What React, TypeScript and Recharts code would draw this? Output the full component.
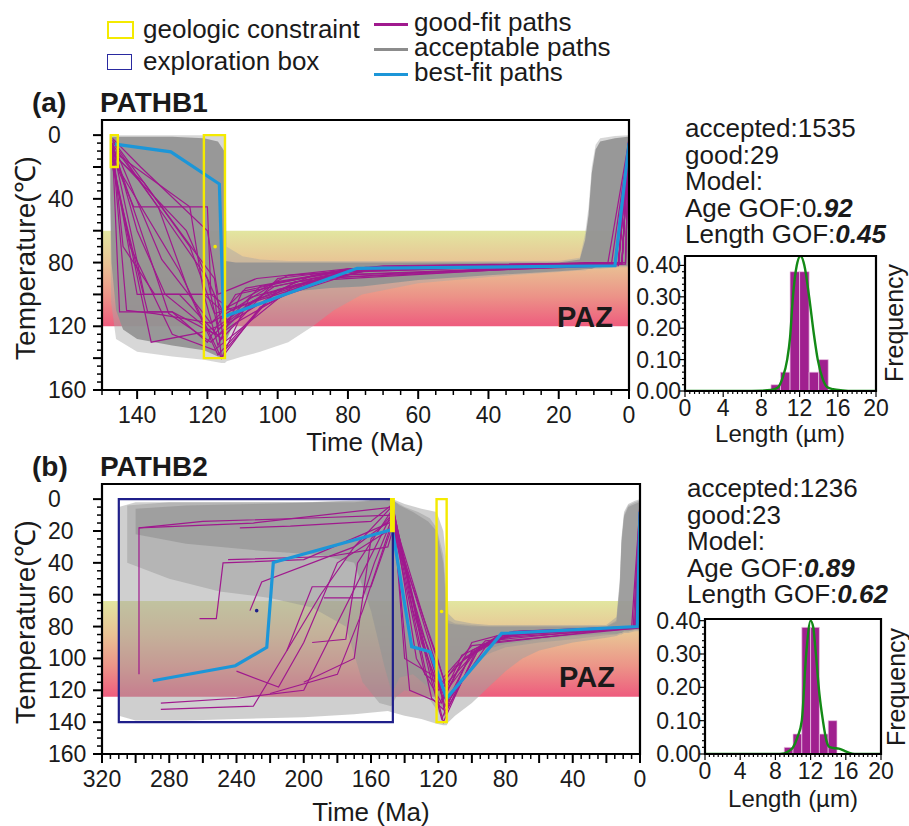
import React from 'react';
import { ComposedChart, Area, Line, XAxis, YAxis, ReferenceArea, ReferenceDot } from 'recharts';

const FONT = '"Liberation Sans", Arial, Helvetica, sans-serif';

type P2 = [number, number];
type P3 = [number, number, number];

// ================= Panel (a) PATHB1 =================
const timeLabelsA = [140, 120, 100, 80, 60, 40, 20, 0];
const tempLabelsA = [0, 40, 80, 120, 160];
const pazA: P2 = [60, 120];
const envLightA: P3[] = [
  [147.8, 0, 22], [147.4, 0, 105], [146, 0, 128], [140, 0, 136], [130, 0, 139], [121, 0, 141],
  [116, 0, 143], [115, 0, 143], [114.5, 70, 142], [110, 76, 139], [105, 78, 136], [97, 79, 130],
  [90, 79, 120], [84, 79, 110], [76, 79, 100], [60, 79, 93], [40, 79, 89], [20, 79, 86],
  [14, 77, 85], [12.5, 62, 85], [11.5, 45, 84], [10.6, 20, 84], [9.5, 6, 84], [8.2, 2, 84],
  [4, 0.5, 83], [0.2, 0, 83], [0, 0, 10],
];
const envDenseA: P3[] = [
  [147.6, 1, 40], [147.3, 1, 80], [146, 1, 110], [144, 1, 122], [140, 1, 128], [130, 1, 132],
  [121, 2, 135], [117, 4, 139], [115.2, 10, 140], [114.8, 79, 130], [112, 80, 115], [105, 80, 104],
  [95, 80, 98], [85, 80, 96], [76, 80, 95], [60, 80, 91], [40, 80, 88], [20, 80, 85.5],
  [14, 78, 84.5], [12.5, 66, 84], [11.5, 50, 84], [10.6, 24, 84], [9.5, 9, 83], [8.2, 4, 83],
  [4, 2, 82], [0.4, 1, 82], [0, 2, 8],
];
const goodPathsA: P2[][] = [
  [[147, 5], [140, 60], [132, 100], [118, 125], [105, 95], [80, 84], [3, 80], [0, 2]],
  [[147, 8], [143, 110], [135, 112], [119, 118], [100, 92], [75, 83], [2, 80], [0, 3]],
  [[147, 10], [125, 45], [121, 100], [117, 132], [110, 98], [85, 86], [5, 81], [0, 4]],
  [[146.5, 12], [138, 100], [128, 100], [116, 128], [100, 90], [70, 82], [2, 80], [0, 1]],
  [[147, 15], [128, 85], [116, 140], [108, 102], [80, 85], [4, 81], [0, 2]],
  [[147, 6], [134, 45], [120, 45], [119, 100], [113, 110], [90, 88], [60, 82], [1, 80], [0, 5]],
  [[147, 18], [142, 70], [130, 125], [118, 135], [95, 94], [70, 83], [3, 81], [0, 3]],
  [[147, 4], [120, 90], [117, 122], [104, 100], [80, 86], [2, 80], [0, 1]],
  [[147, 9], [145, 111], [130, 111], [117, 126], [112, 118], [90, 90], [3, 80], [0, 1]],
  [[147, 12], [138, 30], [125, 70], [118, 112], [100, 100], [78, 84], [6, 80], [0, 3]],
  [[147, 14], [140, 100], [121, 100], [116, 110], [97, 88], [65, 83], [2, 80], [0, 4]],
  [[147, 7], [131, 112], [119, 130], [107, 104], [85, 88], [3, 82], [0, 2]],
  [[147, 3], [118, 90], [115, 135], [100, 97], [72, 84], [1, 81], [0, 0]],
  [[147, 16], [136, 130], [122, 124], [117, 120], [101, 95], [78, 85], [4, 80], [0, 3]],
  [[147, 11], [126, 60], [118, 100], [116, 140], [105, 108], [88, 90], [2, 81], [0, 2]],
  [[146, 10], [133, 78], [119, 118], [109, 96], [77, 84], [3, 80], [0, 5]],
  [[147, 5], [144, 70], [135, 100], [118, 100], [114, 118], [95, 92], [2, 80], [0, 2]],
  [[147, 13], [141, 45], [134, 45], [125, 100], [117, 138], [103, 104], [76, 85], [4, 80], [0, 1]],
  [[147, 20], [137, 111], [130, 111], [120, 130], [112, 100], [86, 88], [3, 81], [0, 4]],
  [[147, 2], [139, 20], [120, 60], [117, 100], [106, 90], [80, 84], [1, 80], [0, 0]],
];
const bestPathA: P2[] = [[146.3, 5.6], [130.4, 10.5], [116.6, 30.7], [115.4, 114], [77.4, 83.6], [4, 82], [0, 5]];
const constraintBoxesA: [number, number, number, number][] = [[145.5, 147.5, 0, 20], [115, 121, 0, 140]];
const constraintDotsA: P2[] = [[117.8, 70]];
const histEdgesA = [9, 10, 11, 12, 13, 14, 15];
const histFreqA = [0.02, 0.06, 0.38, 0.38, 0.06, 0.10];
const fitLenA = [0, 2, 4, 6, 8, 9, 9.7, 10.2, 10.7, 11, 11.3, 11.7, 12.1, 12.5, 13, 13.5, 13.9, 14.4, 14.9, 15.5, 16.5, 17.5, 20];
const fitFreqA = [0, 0, 0, 0, 0.001, 0.003, 0.01, 0.04, 0.1, 0.17, 0.3, 0.4, 0.43, 0.4, 0.3, 0.18, 0.1, 0.04, 0.012, 0.006, 0.002, 0, 0];

// ================= Panel (b) PATHB2 =================
const timeLabelsB = [320, 280, 240, 200, 160, 120, 80, 40, 0];
const tempLabelsB = [0, 20, 40, 60, 80, 100, 120, 140, 160];
const pazB: P2 = [64, 124];
const envLightB: P3[] = [
  [310, 5, 136], [300, 2, 139], [270, 2, 139], [240, 2, 138], [200, 2, 137], [170, 1, 135],
  [150, 0, 133], [147, 0, 134], [140, 3, 136], [130, 6, 138], [121, 8, 141], [117, 20, 142],
  [115, 40, 142], [114, 72, 140], [110, 76, 136], [100, 78, 128], [90, 79, 118], [80, 79, 108],
  [70, 79, 100], [60, 79, 95], [40, 79, 90], [20, 79, 87], [14, 74, 86], [12, 50, 85],
  [11, 24, 85], [9.5, 8, 84], [7, 3, 84], [3, 1, 83], [0.2, 0, 83], [0, 0, 12],
];
const envDenseB: P3[] = [
  [305, 4, 40], [280, 2, 50], [250, 2, 58], [220, 2, 62], [195, 2, 68], [175, 1, 80],
  [165, 1, 115], [155, 0, 128], [148, 0, 130], [145, 2, 124], [140, 5, 120], [132, 8, 122],
  [125, 12, 126], [121, 18, 132], [117, 35, 138], [115, 60, 138], [114, 76, 128], [110, 78, 115],
  [100, 79, 104], [90, 80, 97], [80, 80, 93], [60, 80, 90], [40, 80, 88], [20, 80, 85.5],
  [14, 76, 85], [12, 52, 84], [11, 26, 84], [9.5, 10, 83], [7, 4, 83], [3, 2, 82],
  [0.4, 1, 82], [0, 2, 10],
];
const envCoreB: P3[] = [
  [300, 6, 22], [270, 4, 28], [230, 3, 32], [190, 2, 35], [170, 2, 40], [160, 1, 70],
  [152, 1, 105], [147.5, 0, 122], [143, 4, 112], [135, 8, 110], [126, 14, 118], [121, 20, 126],
  [117, 40, 132], [115, 70, 128], [114, 78, 112], [108, 79, 102], [100, 80, 98], [90, 80, 94],
  [80, 80, 91], [60, 80, 88], [40, 80, 86], [20, 80, 84.5], [14, 77, 84.5], [12, 55, 84],
  [11, 28, 84], [9.5, 11, 83], [7, 5, 83], [3, 3, 82], [0.4, 2, 82], [0, 3, 10],
];
const goodPathsB: P2[][] = [
  [[298, 18], [260, 14], [200, 12], [147, 10], [125, 110], [118, 138], [100, 95], [80, 84], [3, 80], [0, 2]],
  [[298, 110], [298, 18], [230, 15], [147, 5], [130, 90], [117, 125], [105, 100], [82, 85], [2, 80], [0, 3]],
  [[262, 75], [252, 75], [248, 40], [200, 38], [147, 14], [121, 105], [116, 135], [95, 92], [70, 83], [3, 81], [0, 2]],
  [[285, 128], [240, 125], [200, 120], [147, 8], [133, 100], [118, 128], [100, 90], [75, 83], [2, 80], [0, 4]],
  [[285, 132], [230, 130], [190, 60], [170, 30], [147, 12], [122, 118], [117, 140], [98, 96], [80, 85], [4, 80], [0, 1]],
  [[240, 108], [215, 118], [200, 90], [180, 40], [147, 18], [126, 95], [116, 130], [90, 90], [2, 81], [0, 2]],
  [[232, 70], [225, 52], [170, 30], [147, 4], [135, 70], [120, 120], [110, 105], [85, 86], [1, 80], [0, 1]],
  [[210, 95], [195, 55], [160, 55], [147, 16], [128, 110], [117, 118], [92, 89], [3, 80], [0, 3]],
  [[238, 18], [208, 17], [160, 14], [147, 3], [140, 100], [121, 112], [114, 130], [96, 94], [72, 83], [2, 80], [0, 0]],
  [[220, 122], [180, 110], [165, 70], [147, 13], [124, 125], [117, 132], [100, 96], [78, 85], [5, 81], [0, 3]],
  [[195, 90], [175, 88], [168, 40], [147, 6], [131, 80], [118, 115], [104, 100], [80, 86], [2, 80], [0, 2]],
  [[245, 38], [185, 36], [150, 30], [147, 19], [121, 98], [115, 120], [95, 92], [70, 84], [3, 80], [0, 4]],
  [[200, 115], [170, 100], [160, 25], [147, 9], [137, 120], [119, 128], [106, 98], [84, 87], [1, 81], [0, 1]],
  [[188, 62], [165, 62], [158, 40], [147, 11], [126, 84], [117, 112], [100, 92], [2, 80], [0, 2]],
];
const bestPathB: P2[] = [[289.8, 114], [240.7, 104.6], [222, 93], [218.1, 39.7], [147.3, 19], [135.8, 92.6], [124.9, 95.8], [115, 125], [82.3, 84.3], [1.6, 80], [0, 8]];
const constraintBoxesB: [number, number, number, number][] = [[146.5, 148, 0, 20], [115, 121, 0, 140]];
const explorationBoxB: [number, number, number, number] = [147, 310, 0, 140];
const constraintDotsB: P2[] = [[118, 70.5]];
const explorationDotsB: P2[] = [[228, 70]];
const histEdgesB = [9, 10, 11, 12, 13, 14, 15];
const histFreqB = [0.02, 0.06, 0.38, 0.38, 0.06, 0.10];
const fitLenB = [0, 2, 4, 6, 8, 9, 9.5, 10, 10.5, 11, 11.5, 12, 12.3, 12.6, 13, 13.4, 13.8, 14.1, 14.6, 15.2, 15.8, 16.4, 17, 20];
const fitFreqB = [0, 0, 0, 0, 0, 0.002, 0.008, 0.02, 0.05, 0.1, 0.3, 0.4, 0.38, 0.3, 0.18, 0.1, 0.04, 0.022, 0.018, 0.016, 0.01, 0.003, 0, 0];

const histTickLabels = [0, 4, 8, 12, 16, 20];
const freqTickLabels = [0, 0.1, 0.2, 0.3, 0.4];

// ================= helpers =================
const range = (a: number, b: number, s: number) => {
  const r: number[] = [];
  for (let i = 0; a + i * s <= b + 1e-9; i++) r.push(Math.round((a + i * s) * 1000) / 1000);
  return r;
};
const near = (v: number, arr: number[]) => arr.some((x) => Math.abs(x - v) < 1e-6);
const isMult = (v: number, step: number) => Math.abs(v / step - Math.round(v / step)) < 1e-6;
const toPts = (p: P2[]) => p.map(([a, t]) => ({ a, t }));
const toEnv = (e: P3[]) => e.map(([a, lo, hi]) => ({ a, r: [lo, hi] }));

const PURPLE = '#a0198e';
const BLUE = '#1c96d8';
const YELLOW = '#f4ea00';
const NAVY = '#1f1f8a';

function Txt({ x, y, size = 26, bold = false, children, anchor = 'left', lh = 1 }: any) {
  const tx = anchor === 'center' ? 'translate(-50%,-50%)' : 'translate(0,-50%)';
  return (
    <div style={{ position: 'absolute', left: x, top: y, transform: tx, fontFamily: FONT, fontSize: size, fontWeight: bold ? 700 : 400, lineHeight: lh, whiteSpace: 'nowrap', color: '#1a1a1a' }}>
      {children}
    </div>
  );
}
function VTxt({ x, y, size = 28, children }: any) {
  return (
    <div style={{ position: 'absolute', left: x, top: y, transform: 'translate(-50%,-50%) rotate(-90deg)', fontFamily: FONT, fontSize: size, lineHeight: 1, whiteSpace: 'nowrap', color: '#1a1a1a' }}>
      {children}
    </div>
  );
}

function ThermalPanel(props: any) {
  const { left, top, width, right, xMax, timeLabels, tempLabels, paz, gradId, layers, good, best, boxes, explor, dots, navyDots } = props;
  const xTick = (p: any) => {
    const v = p.payload.value;
    const major = isMult(v, 20);
    return (
      <g>
        <line x1={p.x} x2={p.x} y1={p.y} y2={p.y + (major ? 9 : 5)} stroke="#000" strokeWidth={major ? 2 : 1.5} />
        {near(v, timeLabels) && (
          <text x={p.x} y={p.y + 33} textAnchor="middle" fontSize={23} fontFamily={FONT} fill="#1a1a1a">{v}</text>
        )}
      </g>
    );
  };
  const yTick = (p: any) => {
    const v = p.payload.value;
    const major = isMult(v, 20);
    return (
      <g>
        <line x1={p.x} x2={p.x - (major ? 9 : 5)} y1={p.y} y2={p.y} stroke="#000" strokeWidth={major ? 2 : 1.5} />
        {near(v, tempLabels) && (
          <text x={p.x - 54} y={p.y + 8} textAnchor="start" fontSize={23} fontFamily={FONT} fill="#1a1a1a">{v}</text>
        )}
      </g>
    );
  };
  return (
    <div style={{ position: 'absolute', left, top }}>
      <ComposedChart width={width} height={340} margin={{ top: 20, right, bottom: 20, left: 42 }}>
        <defs>
          <linearGradient id={gradId} x1="0" y1="0" x2="0" y2="1">
            <stop offset="0%" stopColor="#e2e6a0" />
            <stop offset="35%" stopColor="#e9c294" />
            <stop offset="68%" stopColor="#ec9488" />
            <stop offset="100%" stopColor="#ee5c7e" />
          </linearGradient>
        </defs>
        <XAxis type="number" dataKey="a" domain={[0, xMax]} reversed allowDataOverflow ticks={range(0, xMax, 5)} interval={0}
          tickLine={false} tickSize={0} tickMargin={0} axisLine={false} height={30} tick={xTick} />
        <YAxis type="number" domain={[-9.5, 160]} reversed allowDataOverflow ticks={range(0, 160, 5)} interval={0}
          tickLine={false} tickSize={0} tickMargin={0} axisLine={false} width={60} tick={yTick} />
        <ReferenceArea y1={paz[0]} y2={paz[1]} fill={`url(#${gradId})`} fillOpacity={1} stroke="none" zIndex={50} />
        {layers.map((l: any, i: number) => (
          <Area key={'l' + i} data={toEnv(l.env)} dataKey="r" type="linear" stroke="none" fill={l.color} fillOpacity={l.op}
            isAnimationActive={false} dot={false} activeDot={false} zIndex={100 + i} />
        ))}
        {good.map((p: P2[], i: number) => (
          <Line key={'g' + i} data={toPts(p)} dataKey="t" type="linear" stroke={PURPLE} strokeWidth={1.2} dot={false}
            activeDot={false} isAnimationActive={false} zIndex={400} />
        ))}
        <Line data={toPts(best)} dataKey="t" type="linear" stroke={BLUE} strokeWidth={3.2} dot={false} activeDot={false}
          isAnimationActive={false} zIndex={410} />
        {explor && (
          <ReferenceArea x1={explor[0]} x2={explor[1]} y1={explor[2]} y2={explor[3]} fill="none" stroke={NAVY} strokeWidth={2.2} zIndex={420} />
        )}
        {boxes.map((b: number[], i: number) => (
          <ReferenceArea key={'b' + i} x1={b[0]} x2={b[1]} y1={b[2]} y2={b[3]} fill={b[1] - b[0] < 2 ? YELLOW : 'none'}
            fillOpacity={1} stroke={YELLOW} strokeWidth={2.4} zIndex={430} />
        ))}
        {dots.map((d: P2, i: number) => (
          <ReferenceDot key={'d' + i} x={d[0]} y={d[1]} r={1.8} fill={YELLOW} stroke="none" zIndex={440} />
        ))}
        {(navyDots || []).map((d: P2, i: number) => (
          <ReferenceDot key={'n' + i} x={d[0]} y={d[1]} r={1.8} fill={NAVY} stroke="none" zIndex={440} />
        ))}
        <ReferenceArea x1={0} x2={xMax} y1={-9.5} y2={160} fill="none" stroke="#000" strokeWidth={2.2} zIndex={450} />
      </ComposedChart>
    </div>
  );
}

function HistPanel(props: any) {
  const { left, top, width, yMax, edges, freq, fitL, fitF } = props;
  const fit = fitL.map((l: number, i: number) => ({ l, f: fitF[i] }));
  const xTick = (p: any) => {
    const v = p.payload.value;
    const lab = near(v, histTickLabels);
    return (
      <g>
        <line x1={p.x} x2={p.x} y1={p.y} y2={p.y + (lab ? 6 : 3)} stroke="#000" strokeWidth={1.2} />
        {lab && <text x={p.x} y={p.y + 25} textAnchor="middle" fontSize={23} fontFamily={FONT} fill="#1a1a1a">{v}</text>}
      </g>
    );
  };
  const yTick = (p: any) => {
    const v = p.payload.value;
    const lab = near(v, freqTickLabels);
    return (
      <g>
        <line x1={p.x} x2={p.x - (lab ? 6 : 3)} y1={p.y} y2={p.y} stroke="#000" strokeWidth={1.2} />
        {lab && <text x={p.x - 4} y={p.y + 8} textAnchor="end" fontSize={23} fontFamily={FONT} fill="#1a1a1a">{v.toFixed(2)}</text>}
      </g>
    );
  };
  return (
    <div style={{ position: 'absolute', left, top }}>
      <ComposedChart width={width} height={180} margin={{ top: 10, right: 24, bottom: 0, left: 5 }}>
        <XAxis type="number" dataKey="l" domain={[0, 20]} allowDataOverflow ticks={range(0, 20, 0.5)} interval={0}
          tickLine={false} tickSize={0} tickMargin={0} axisLine={false} height={35} tick={xTick} />
        <YAxis type="number" domain={[0, yMax]} allowDataOverflow ticks={range(0, 0.4, 0.02)} interval={0}
          tickLine={false} tickSize={0} tickMargin={0} axisLine={false} width={60} tick={yTick} />
        {freq.map((f: number, i: number) => (
          <ReferenceArea key={'h' + i} x1={edges[i]} x2={edges[i + 1]} y1={0} y2={f} fill="#a0208f" fillOpacity={1}
            stroke="#ecc8e6" strokeWidth={0.7} zIndex={300} />
        ))}
        <Line data={fit} dataKey="f" type="monotone" stroke="#138a16" strokeWidth={2.4} dot={false} activeDot={false}
          isAnimationActive={false} zIndex={400} />
        <ReferenceArea x1={0} x2={20} y1={0} y2={yMax} fill="none" stroke="#000" strokeWidth={2.2} zIndex={450} />
      </ComposedChart>
    </div>
  );
}

function Stats({ x, y, lines }: any) {
  return (
    <div style={{ position: 'absolute', left: x, top: y, fontFamily: FONT, fontSize: 26, lineHeight: '26.6px', color: '#1a1a1a', whiteSpace: 'nowrap' }}>
      {lines.map((l: any, i: number) => (
        <div key={i} style={{ height: 26.6 }}>{l}</div>
      ))}
    </div>
  );
}

export default function App() {
  const BI = (s: string) => <b><i>{s}</i></b>;
  return (
    <div style={{ position: 'absolute', left: 0, top: 0, width: 909, height: 826, background: '#fff', overflow: 'hidden' }}>
      {/* legend */}
      <div style={{ position: 'absolute', left: 107, top: 21, width: 23, height: 14, border: `2px solid ${YELLOW}` }} />
      <Txt x={143} y={29} lh="24px">geologic constraint</Txt>
      <div style={{ position: 'absolute', left: 107, top: 54, width: 23, height: 14, border: '1.5px solid #2a2aa0' }} />
      <Txt x={143} y={61} lh="24px">exploration box</Txt>
      <div style={{ position: 'absolute', left: 374, top: 23, width: 34, height: 3, background: PURPLE }} />
      <Txt x={414} y={22} lh="24px">good-fit paths</Txt>
      <div style={{ position: 'absolute', left: 374, top: 48, width: 34, height: 3, background: '#8c8c8c' }} />
      <Txt x={414} y={47} lh="24px">acceptable paths</Txt>
      <div style={{ position: 'absolute', left: 374, top: 73, width: 34, height: 3, background: BLUE }} />
      <Txt x={414} y={72} lh="24px">best-fit paths</Txt>

      {/* panel a */}
      <Txt x={32} y={103} size={28} bold>(a)</Txt>
      <Txt x={100} y={103} size={28} bold>PATHB1</Txt>
      <ThermalPanel left={0} top={100} width={640} right={11} xMax={150} timeLabels={timeLabelsA} tempLabels={tempLabelsA}
        paz={pazA} gradId="pazA"
        layers={[{ env: envLightA, color: '#a6a6a6', op: 0.45 }, { env: envDenseA, color: '#939393', op: 0.92 }]}
        good={goodPathsA} best={bestPathA} boxes={constraintBoxesA} dots={constraintDotsA} />
      <Txt x={557} y={317} size={29} bold>PAZ</Txt>
      <VTxt x={26} y={258} size={28}>Temperature(℃)</VTxt>
      <Txt x={365} y={442} size={26} anchor="center">Time (Ma)</Txt>
      <Stats x={685} y={115} lines={['accepted:1535', 'good:29', 'Model:', <>Age GOF:0{BI('.92')}</>, <>Length GOF:{BI('0.45')}</>]} />
      <HistPanel left={620} top={246} width={280} yMax={0.43} edges={histEdgesA} freq={histFreqA} fitL={fitLenA} fitF={fitFreqA} />
      <Txt x={780} y={434} size={24} anchor="center">Length (µm)</Txt>
      <VTxt x={894} y={323} size={25}>Frequency</VTxt>

      {/* panel b */}
      <Txt x={32} y={467} size={28} bold>(b)</Txt>
      <Txt x={100} y={467} size={28} bold>PATHB2</Txt>
      <ThermalPanel left={0} top={464} width={650} right={10} xMax={320} timeLabels={timeLabelsB} tempLabels={tempLabelsB}
        paz={pazB} gradId="pazB"
        layers={[{ env: envLightB, color: '#a0a0a0', op: 0.5 }, { env: envDenseB, color: '#959595', op: 0.45 }, { env: envCoreB, color: '#959595', op: 0.7 }]}
        good={goodPathsB} best={bestPathB} boxes={constraintBoxesB} explor={explorationBoxB} dots={constraintDotsB} navyDots={explorationDotsB} />
      <Txt x={559} y={677} size={29} bold>PAZ</Txt>
      <VTxt x={26} y={622} size={28}>Temperature(℃)</VTxt>
      <Txt x={371} y={812} size={26} anchor="center">Time (Ma)</Txt>
      <Stats x={687} y={475} lines={['accepted:1236', 'good:23', 'Model:', <>Age GOF:{BI('0.89')}</>, <>Length GOF:{BI('0.62')}</>]} />
      <HistPanel left={640} top={609} width={265} yMax={0.405} edges={histEdgesB} freq={histFreqB} fitL={fitLenB} fitF={fitFreqB} />
      <Txt x={793} y={799} size={24} anchor="center">Length (µm)</Txt>
      <VTxt x={896} y={687} size={25}>Frequency</VTxt>
    </div>
  );
}
